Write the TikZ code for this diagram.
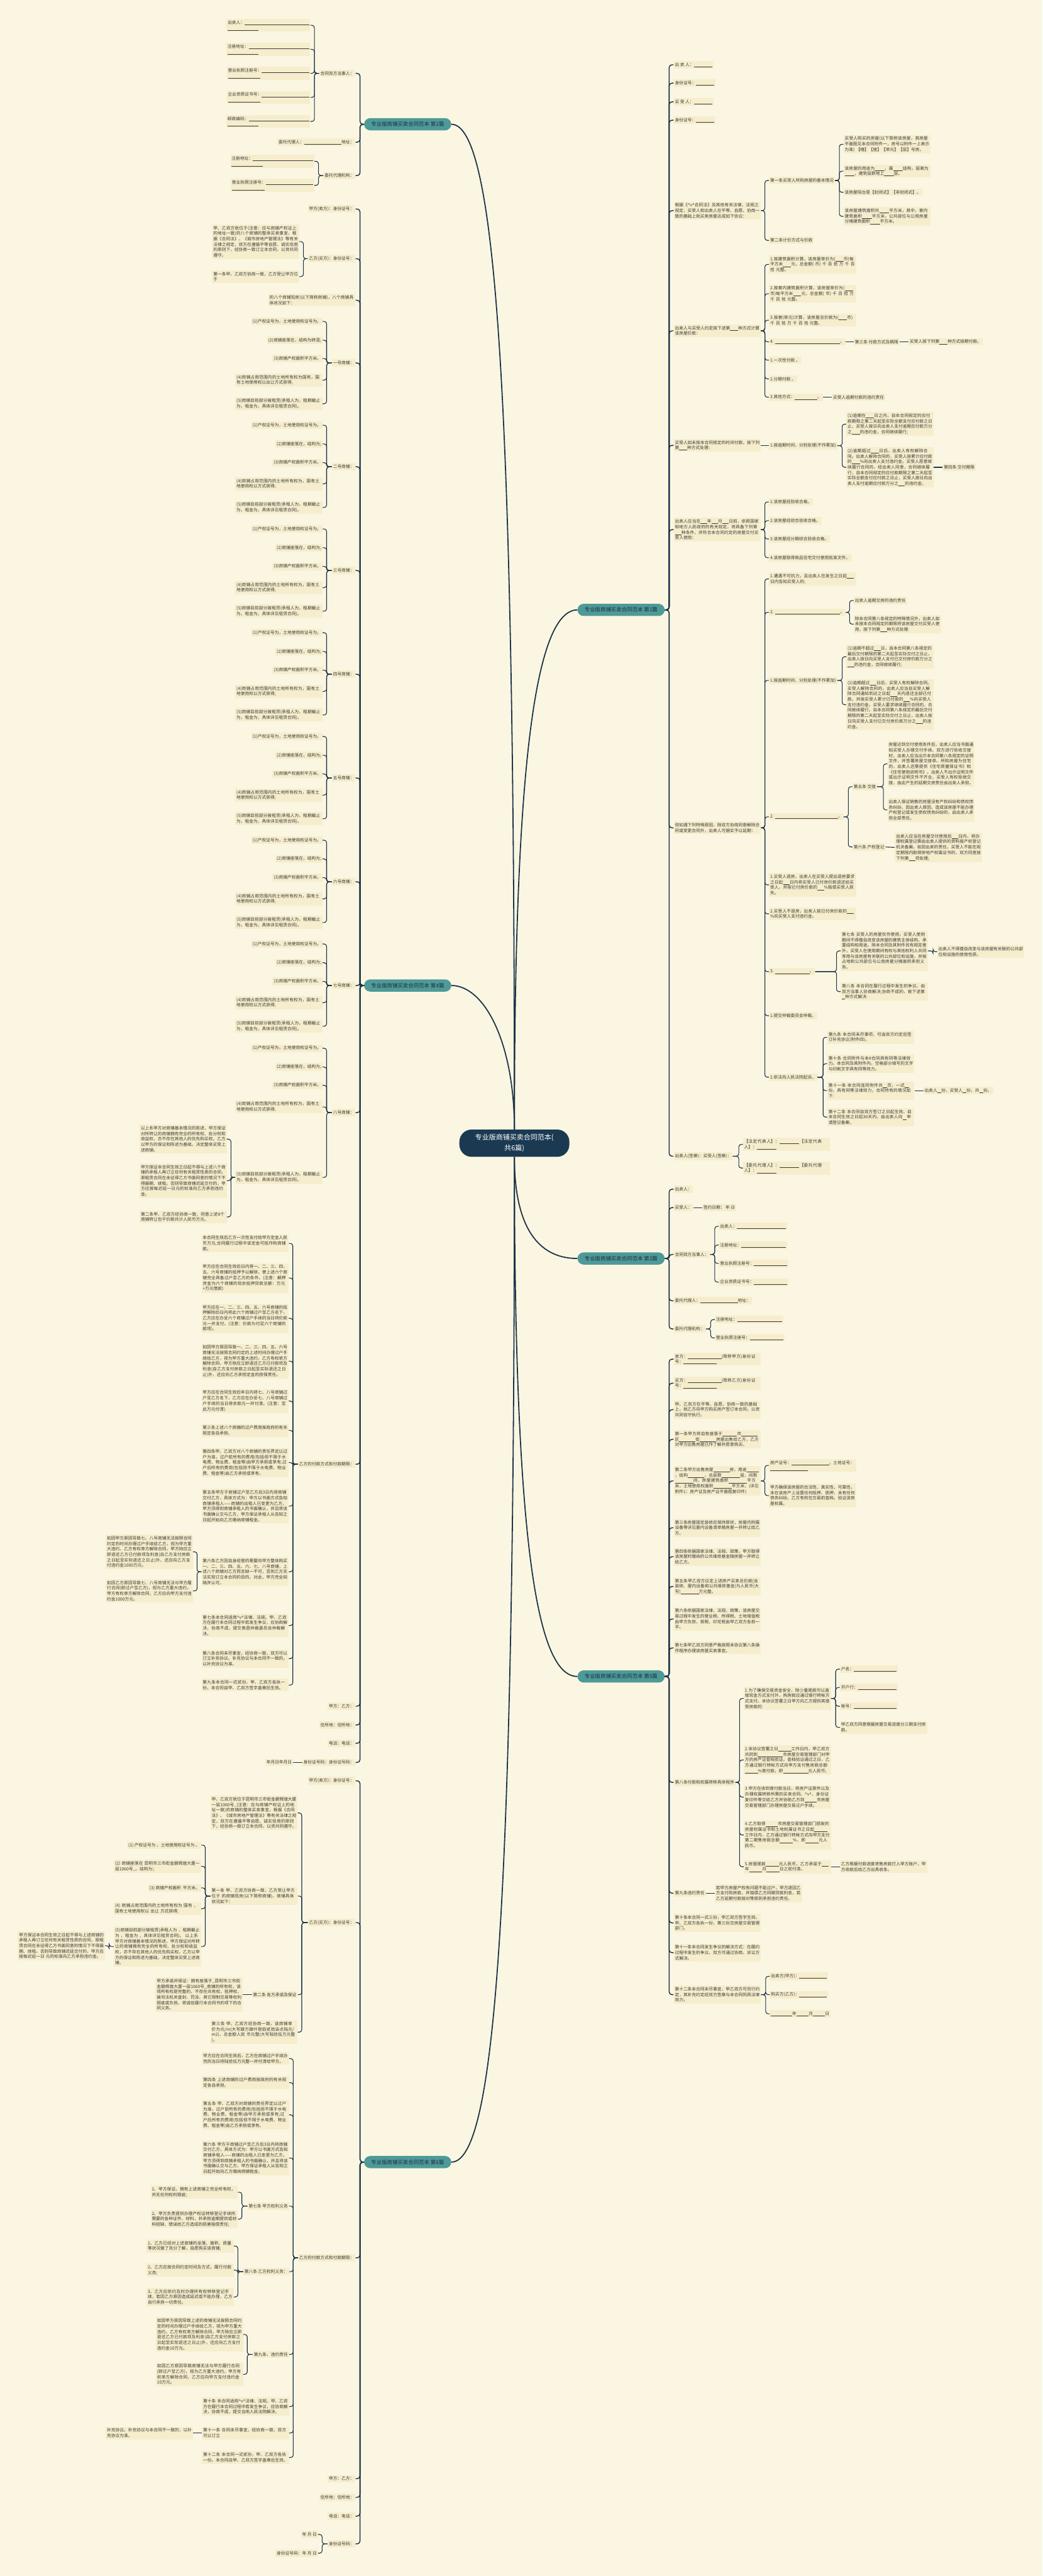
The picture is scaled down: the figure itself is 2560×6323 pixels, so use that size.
\documentclass[tikz,border=0pt]{standalone}
\usepackage{fontspec}
\setmainfont{Noto Sans CJK SC}
\usepackage{xcolor}
\usepackage{tikz}
\usetikzlibrary{positioning}

\XeTeXlinebreaklocale "zh"
\XeTeXlinebreakskip=0pt plus 1pt

\definecolor{bgc}{HTML}{FBF6E2}
\definecolor{leafbg}{HTML}{F5EDCC}
\definecolor{branchc}{HTML}{4E9A98}
\definecolor{branchtext}{HTML}{1B2F3F}
\definecolor{navyc}{HTML}{1B3A52}
\definecolor{linec}{HTML}{1C3448}
\definecolor{textc}{HTML}{3A3A3A}

\newcommand{\leaffont}{\fontsize{10.4}{13.4}\selectfont}
\newcommand{\branchfont}{\fontsize{13}{16}\selectfont}
\newcommand{\rootfont}{\fontsize{17}{26}\selectfont}
% blank to fill in
\newcommand{\bk}[1]{\hskip0pt plus 1pt\rule[-1.6pt]{#1pt}{0.5pt}\hskip0pt plus 1pt}
\newcommand{\vv}{\textasciicircum v\textasciicircum}

\begin{document}
\begin{tikzpicture}[x=1pt, y=-1pt,
  leaf/.style={fill=leafbg, text=textc, font=\leaffont, inner xsep=3pt, inner ysep=4pt, align=left},
  leafW/.style={leaf, anchor=west},
  leafE/.style={leaf, anchor=east},
  paraW/.style={leafW, text width=208pt},
  paraE/.style={leafE, text width=208pt},
  branch/.style={fill=branchc, text=branchtext, font=\branchfont, rounded corners=15pt, minimum width=214pt, minimum height=30pt, inner sep=0pt},
  root/.style={fill=navyc, text=white, font=\rootfont, rounded corners=30pt, minimum width=270pt, minimum height=67pt, align=center, inner sep=0pt},
  trunk/.style={draw=linec, line width=2.8pt},
  twig/.style={draw=linec, line width=2.2pt, rounded corners=7pt},
  link/.style={draw=linec, line width=1.7pt, rounded corners=6pt}]

\fill[bgc] (0,0) rectangle (2560,6323);
\useasboundingbox (0,0) rectangle (2560,6323);

% root and the six branches
\node[root] (root) at (1263,2806) {专业版商铺买卖合同范本(\\共6篇)};
\node[branch] (p1) at (1525,1497) {专业版商铺买卖合同范本 第1篇};
\node[branch] (p2) at (1001,305) {专业版商铺买卖合同范本 第2篇};
\node[branch] (p3) at (1525,3089) {专业版商铺买卖合同范本 第3篇};
\node[branch] (p4) at (1001,2419) {专业版商铺买卖合同范本 第4篇};
\node[branch] (p5) at (1525,4115) {专业版商铺买卖合同范本 第5篇};
\node[branch] (p6) at (1001,5307) {专业版商铺买卖合同范本 第6篇};

\draw[trunk] (root.north) .. controls (1263,1000) and (1220,305) .. (p2.east);
\draw[trunk] (root.north) .. controls (1263,2000) and (1300,1497) .. (p1.west);
\draw[trunk] (root.north) .. controls (1263,2560) and (1190,2419) .. (p4.east);
\draw[trunk] (root.south) .. controls (1263,3010) and (1320,3089) .. (p3.west);
\draw[trunk] (root.south) .. controls (1263,3800) and (1320,4115) .. (p5.west);
\draw[trunk] (root.south) .. controls (1263,4700) and (1215,5307) .. (p6.east);

% ---------- 第1篇 ----------
\node[leafW] (a1) at (1654,159) {出 卖 人：\bk{45}};
\node[leafW] (a2) at (1654,204) {身份证号：\bk{45}};
\node[leafW] (a3) at (1654,250) {买 受 人：\bk{45}};
\node[leafW] (a4) at (1654,295) {身份证号：\bk{45}};
\node[paraW] (a5) at (1654,517) {根据《\vv 合同法》及其他有关法律、法规之规定，买受人和出卖人在平等、自愿、协商一致的基础上就买卖房屋达成如下协议：};
\node[leafW] (a5a) at (1888,443) {第一条买受人所购房屋的基本情况};
\node[paraW] (a5a1) at (2071,354) {买受人购买的房屋(以下简称该房屋，其房屋平面图见本合同附件一，房号以附件一上表示为准) 【幢】【座】【单元】【层】号房。};
\node[paraW] (a5a2) at (2071,420) {该房屋的用途为\bk{24}，属\bk{24}结构，层高为\bk{24}，建筑层数地上\bk{24}层。};
\node[leafW] (a5a3) at (2071,472) {该房屋阳台是【封闭式】【非封闭式】。};
\node[paraW] (a5a4) at (2071,531) {该房屋建筑面积共\bk{24}平方米，其中，套内建筑面积\bk{24}平方米，公共部位与公用房屋分摊建筑面积\bk{24}平方米。};
\node[leafW] (a5b) at (1888,590) {第二条计价方式与价款};
\node[paraW] (a6) at (1654,812) {出卖人与买受人约定按下述第\bk{20}种方式计算该房屋价款：};
\node[paraW] (a6a) at (1888,649) {1.按建筑面积计算，该房屋单价为(\bk{20}币)每平方米\bk{20}元，总金额( 币) 千 百 拾 万 千 百 拾 元整。};
\node[paraW] (a6b) at (1888,721) {2.按套内建筑面积计算，该房屋单价为(\bk{20}币)每平方米\bk{20}元，总金额( 币) 千 百 拾 万 千 百 拾 元整。};
\node[paraW] (a6c) at (1888,786) {3.按套(单元)计算，该房屋总价款为(\bk{20}币) 千 百 拾 万 千 百 拾 元整。};
\node[leafW] (a6d) at (1888,839) {4. \bk{160}。};
\node[leafW] (a6d1) at (2096,839) {第三条 付款方式及期限};
\node[leaf, right=22pt of a6d1] (a6d2) {买受人按下列第\bk{20}种方式按期付款。};
\node[leafW] (a6e) at (1888,884) {1.一次性付款 。};
\node[leafW] (a6f) at (1888,930) {2.分期付款 。};
\node[leafW] (a6g) at (1888,975) {3.其他方式：\bk{55} 。};
\node[leaf, right=22pt of a6g] (a6g1) {买受人逾期付款的违约责任};
\node[paraW] (a7) at (1654,1093) {买受人如未按本合同规定的时间付款，按下列第\bk{20}种方式处理：};
\node[leafW] (a7a) at (1888,1094) {1.按逾期时间，分别处理(不作累加)};
\node[paraW] (a7a1) at (2078,1041) {(1)逾期在\bk{20}日之内，自本合同规定的应付款期限之第二天起至实际全额支付应付款之日止，买受人按日向出卖人支付逾期应付款万分之\bk{20}的违约金，合同继续履行;};
\node[paraW] (a7a2) at (2078,1147) {(2)逾期超过\bk{20}日后，出卖人有权解除合同。出卖人解除合同的，买受人按累计应付款的\bk{20}\%向出卖人支付违约金。买受人愿意继续履行合同的，经出卖人同意，合同继续履行，自本合同规定的应付款期限之第二天起至实际全额支付应付款之日止，买受人按日向出卖人支付逾期应付款万分之\bk{16}的违约金。};
\node[leaf, right=22pt of a7a2] (a7a3) {第四条 交付期限};
\node[paraW] (a8) at (1654,1300) {出卖人应当在\bk{16}年\bk{16}月\bk{16}日前，依照国家和地方人民政府的有关规定，将具备下列第\bk{16}种条件，并符合本合同约定的房屋交付买受人使用：};
\node[leafW] (a8a) at (1888,1232) {1.该房屋经验收合格。};
\node[leafW] (a8b) at (1888,1278) {2.该房屋经综合验收合格。};
\node[leafW] (a8c) at (1888,1323) {3.该房屋经分期综合验收合格。};
\node[leafW] (a8d) at (1888,1369) {4.该房屋取得商品住宅交付使用批准文件。};
\node[paraW] (a9) at (1654,2032) {但如遇下列特殊原因，除双方协商同意解除合同或变更合同外，出卖人可据实予以延期：};
\node[paraW] (a9a) at (1888,1421) {1.遭遇不可抗力，且出卖人在发生之日起\bk{16}日内告知买受人的;};
\node[leafW] (a9b) at (1888,1503) {2. \bk{160}。};
\node[leafW] (a9b1) at (2096,1474) {出卖人逾期交房的违约责任};
\node[paraW] (a9b2) at (2096,1532) {除本合同第八条规定的特殊情况外，出卖人如未按本合同规定的期限将该房屋交付买受人使用，按下列第\bk{16}种方式处理:};
\node[leafW] (a9c) at (1888,1670) {1.按逾期时间，分别处理(不作累加)};
\node[paraW] (a9c1) at (2078,1612) {(1)逾期不超过\bk{16}日，自本合同第八条规定的最后交付期限的第二天起至实际交付之日止，出卖人按日向买受人支付已交付房价款万分之\bk{16}的违约金，合同继续履行;};
\node[paraW] (a9c2) at (2078,1730) {(2)逾期超过\bk{16}日后，买受人有权解除合同。买受人解除合同的，出卖人应当自买受人解除合同通知到达之日起\bk{16}天内退还全部已付款，并按买受人累计已付款的\bk{16}\%向买受人支付违约金。买受人要求继续履行合同的，合同继续履行，自本合同第八条规定的最后交付期限的第二天起至实际交付之日止，出卖人按日向买受人支付已交付房价款万分之\bk{16}的违约金。};
\node[leafW] (a9d) at (1888,2005) {2. \bk{155}。};
\node[leafW] (a9d1) at (2093,1931) {第五条 交接};
\node[paraW] (a9d1a) at (2179,1875) {房屋达到交付使用条件后，出卖人应当书面通知买受人办理交付手续。双方进行验收交接时，出卖人应当出示本合同第八条规定的证明文件，并签署房屋交接单。所购房屋为住宅的，出卖人还需提供《住宅质量保证书》和《住宅使用说明书》。出卖人不出示证明文件或出示证明文件不齐全，买受人有权拒绝交接，由此产生的延期交房责任由出卖人承担。};
\node[paraW] (a9d1b) at (2179,1988) {出卖人保证销售的房屋没有产权纠纷和债权债务纠纷。因出卖人原因，造成该房屋不能办理产权登记或发生债权债务纠纷的，由出卖人承担全部责任。};
\node[leafW] (a9d2) at (2093,2079) {第六条 产权登记};
\node[paraW] (a9d2a) at (2197,2080) {出卖人应当在房屋交付使用后\bk{16}日内，将办理权属登记需由出卖人提供的资料报产权登记机关备案。如因出卖的责任，买受人不能在规定期限内取得房地产权属证书的，双方同意按下列第\bk{16}项处理;};
\node[paraW] (a9e) at (1888,2172) {1.买受人退房，出卖人在买受人提出退房要求之日起\bk{16}日内将买受人已付房价款退还给买受人，并按已付房价款的\bk{16}\%赔偿买受人损失。};
\node[paraW] (a9f) at (1888,2243) {2.买受人不退房，出卖人按已付房价款的\bk{16}\%向买受人支付违约金。};
\node[leafW] (a9g) at (1888,2385) {3. \bk{85}。};
\node[paraW] (a9g1) at (2064,2334) {第七条 买受人的房屋仅作使用，买受人使用期间不得擅自改变该房屋的建筑主体结构、承重结构和用途。除本合同及其附件另有规定者外，买受人在使用期间有权与其他权利人共同享用与该房屋有关联的公共部位和设施，并按占地和公共部位与公用房屋分摊面积承担义务。};
\node[paraW] (a9g1a) at (2301,2336) {出卖人不得擅自改变与该房屋有关联的公共部位和设施的使用性质。};
\node[paraW] (a9g2) at (2064,2434) {第八条 本合同在履行过程中发生的争议，由双方当事人协商解决;协商不成的，按下述第\bk{8}种方式解决:};
\node[leafW] (a9h) at (1888,2493) {1.提交仲裁委员会仲裁。};
\node[leafW] (a9i) at (1888,2644) {2.依法向人民法院起诉。};
\node[paraW] (a9i1) at (2031,2546) {第九条 本合同未尽事项，可由双方约定后签订补充协议(附件四)。};
\node[paraW] (a9i2) at (2031,2611) {第十条 合同附件与本\#合同具有同等法律效力。本合同及其附件内，空格部分填写的文字与印刷文字具有同等效力。};
\node[paraW] (a9i3) at (2031,2677) {第十一条 本合同连同附件共\bk{10}页，一式\bk{10}份，具有同等法律效力，合同持有的情况如下:};
\node[leafW] (a9i3a) at (2267,2677) {出卖人\bk{10}份，买受人\bk{10}份，共\bk{10}份。};
\node[paraW] (a9i4) at (2031,2742) {第十二条 本合同自双方签订之日起生效。自本合同生效之日起30天内，由出卖人向\bk{10}申请登记备案。};
\node[leafW] (a10) at (1654,2838) {出卖人(签章)：买受人(签章)：};
\node[paraW] (a10a) at (1824,2809) {【法定代表人】：\bk{48} 【法定代表人】：\bk{48}};
\node[paraW] (a10b) at (1824,2867) {【委托代理人】：\bk{48} 【委托代理人】：\bk{48}};

\foreach \c in {a1,a2,a3,a4,a5,a6,a7,a8,a9,a10} \draw[twig] (\c.west) -- ++(-11,0) |- (p1.east);
\foreach \c in {a5a,a5b} \draw[link] (\c.west) -- ++(-10,0) |- (a5.east);
\foreach \c in {a5a1,a5a2,a5a3,a5a4} \draw[link] (\c.west) -- ++(-10,0) |- (a5a.east);
\foreach \c in {a6a,a6b,a6c,a6d,a6e,a6f,a6g} \draw[link] (\c.west) -- ++(-10,0) |- (a6.east);
\draw[link] (a6d.east) -- (a6d1.west);
\draw[link] (a6d1.east) -- (a6d2.west);
\draw[link] (a6g.east) -- (a6g1.west);
\draw[link] (a7a.west) -- (a7.east |- a7a.west);
\foreach \c in {a7a1,a7a2} \draw[link] (\c.west) -- ++(-10,0) |- (a7a.east);
\draw[link] (a7a2.east) -- (a7a3.west);
\foreach \c in {a8a,a8b,a8c,a8d} \draw[link] (\c.west) -- ++(-10,0) |- (a8.east);
\foreach \c in {a9a,a9b,a9c,a9d,a9e,a9f,a9g,a9h,a9i} \draw[link] (\c.west) -- ++(-10,0) |- (a9.east);
\foreach \c in {a9b1,a9b2} \draw[link] (\c.west) -- ++(-10,0) |- (a9b.east);
\foreach \c in {a9c1,a9c2} \draw[link] (\c.west) -- ++(-10,0) |- (a9c.east);
\foreach \c in {a9d1,a9d2} \draw[link] (\c.west) -- ++(-10,0) |- (a9d.east);
\foreach \c in {a9d1a,a9d1b} \draw[link] (\c.west) -- ++(-10,0) |- (a9d1.east);
\draw[link] (a9d2a.west) -- (a9d2.east);
\foreach \c in {a9g1,a9g2} \draw[link] (\c.west) -- ++(-10,0) |- (a9g.east);
\draw[link] (a9g1a.west) -- ++(-10,0) |- (a9g1.east);
\foreach \c in {a9i1,a9i2,a9i3,a9i4} \draw[link] (\c.west) -- ++(-10,0) |- (a9i.east);
\draw[link] (a9i3a.west) -- (a9i3.east);
\foreach \c in {a10a,a10b} \draw[link] (\c.west) -- ++(-10,0) |- (a10.east);

% ---------- 第2篇 ----------
\node[leafE] (b1) at (873,180) {合同双方当事人：};
\node[leafE] (b1a) at (762,62) {出卖人：\bk{158}\\\bk{76}};
\node[leafE] (b1b) at (762,121) {注册地址：\bk{148}\\\bk{76}};
\node[leafE] (b1c) at (762,180) {营业执照注册号：\bk{116}\\\bk{80}};
\node[leafE] (b1d) at (762,239) {企业资质证书号：\bk{116}\\\bk{80}};
\node[leafE] (b1e) at (762,298) {邮政编码：\bk{148}\\\bk{76}};
\node[leafE] (b2) at (873,349) {委托代理人：\bk{92}地址：};
\node[leafE] (b3) at (873,431) {委托代理机构：};
\node[leafE] (b3a) at (772,396) {注册地址：\bk{148}\\\bk{76}};
\node[leafE] (b3b) at (772,455) {营业执照注册号：\bk{116}\\\bk{80}};

\foreach \c in {b1,b2,b3} \draw[twig] (\c.east) -- ++(11,0) |- (p2.west);
\foreach \c in {b1a,b1b,b1c,b1d,b1e} \draw[link] (\c.east) -- ++(10,0) |- (b1.west);
\foreach \c in {b3a,b3b} \draw[link] (\c.east) -- ++(10,0) |- (b3.west);

% ---------- 第4篇 ----------
\node[leafE] (d1) at (873,513) {甲方(卖方)：身份证号：};
\node[leafE] (d2) at (873,635) {乙方(买方)：身份证号：};
\node[paraE] (d2a) at (735,593) {甲、乙双方就位于(注意：应与商铺产权证上的地址一致)的八个商铺的整体买卖事宜，根据《合同法》、《城市房地产管理法》等有关法律之规定，双方在遵循平等自愿、诚实信用的原则下，经协商一致订立本合同，以资共同遵守。};
\node[paraE] (d2b) at (735,679) {第一条甲、乙双方协商一致，乙方受让甲方位于};
\node[paraE] (d3) at (873,737) {的八个商铺现房(以下简称商铺)，八个商铺具体状况如下：};

\node[leafE] (s1) at (873,891) {一号商铺：};
\node[leafE] (s1-1) at (792,789) {(1)产权证号为，土地使用权证号为。};
\node[leafE] (s1-2) at (792,835) {(2)商铺座落在，结构为砖混;};
\node[leafE] (s1-3) at (792,880) {(3)商铺产权面积平方米。};
\node[paraE] (s1-4) at (792,933) {(4)商铺占用范围内的土地所有权为国有，国有土地使用权以出让方式获得;};
\node[paraE] (s1-5) at (792,991) {(5)商铺目前部分被租赁(承租人为，租期截止为，租金为，具体详见租赁合同)。};
\foreach \c in {1,...,5} \draw[link] (s1-\c.east) -- ++(10,0) |- (s1.west);

\foreach \nm [count=\i from 2] in {二,三,四,五,六,七} {
  \pgfmathsetmacro{\yy}{891+254.67*(\i-1)}
  \node[leafE] (s\i) at (873,\yy) {\nm 号商铺：};
  \node[leafE] (s\i-1) at (792,{\yy-102}) {(1)产权证号为，土地使用权证号为。};
  \node[leafE] (s\i-2) at (792,{\yy-56}) {(2)商铺座落在，结构为;};
  \node[leafE] (s\i-3) at (792,{\yy-10}) {(3)商铺产权面积平方米。};
  \node[paraE] (s\i-4) at (792,{\yy+42}) {(4)商铺占用范围内的土地所有权为，国有土地使用权以方式获得;};
  \node[paraE] (s\i-5) at (792,{\yy+100}) {(5)商铺目前部分被租赁(承租人为，租期截止为，租金为，具体详见租赁合同)。};
  \foreach \c in {1,...,5} \draw[link] (s\i-\c.east) -- ++(10,0) |- (s\i.west);
}

\node[leafE] (s8) at (873,2731) {八号商铺：};
\node[leafE] (s8-1) at (792,2573) {(1)产权证号为，土地使用权证号为。};
\node[leafE] (s8-2) at (792,2619) {(2)商铺座落在，结构为;};
\node[leafE] (s8-3) at (792,2664) {(3)商铺产权面积平方米。};
\node[paraE] (s8-4) at (792,2717) {(4)商铺占用范围内的土地所有权为，国有土地使用权以方式获得;};
\node[paraE] (s8-5) at (792,2890) {(5)商铺目前部分被租赁(承租人为，租期截止为，租金为，具体详见租赁合同)。};
\node[paraE] (s8-5a) at (557,2796) {以上系甲方对商铺基本情况的陈述，甲方保证对所转让的商铺拥有完全的所有权、处分权和收益权，亦不存在其他人的优先购买权。乙方以甲方的保证和陈述为基础，决定整体买受上述商铺。};
\node[paraE] (s8-5b) at (557,2898) {甲方保证本合同生效之日起不得与上述八个商铺的承租人再订立任何有关租赁性质的合同，原租赁合同在未征得乙方书面同意的情况下不得展期、续租。否则导致商铺迟延交付的，甲方应按每迟延一日元的标准向乙方承担违约金。};
\node[paraE] (s8-5c) at (557,2987) {第二条甲、乙双方经协商一致，同意上述8个商铺转让包干价款共计人民币万元。};
\foreach \c in {1,...,5} \draw[link] (s8-\c.east) -- ++(10,0) |- (s8.west);
\foreach \c in {a,b,c} \draw[link] (s8-5\c.east) -- ++(10,0) |- (s8-5.west);

\node[leafE] (d12) at (873,3594) {乙方的付款方式和付款期限：};
\node[paraE] (d12a) at (709,3052) {本合同生效后乙方一次性支付给甲方定金人民币万元,合同履行过程中该定金可抵作购商铺款。};
\node[paraE] (d12b) at (709,3137) {甲方应在合同生效后日内将一、二、三、四、五、六号商铺的抵押予以解除，使上述六个商铺完全具备过户至乙方的条件。(注意：解押资金为六个商铺的现余抵押贷款总额：万元+万元借款)};
\node[paraE] (d12c) at (709,3236) {甲方应在一、二、三、四、五、六号商铺的抵押解除后日内将此六个商铺过户至乙方名下，乙方应在办妥六个商铺过户手续的当日将价款元一并支付。(注意：价款为付足六个商铺的款项)。};
\node[paraE] (d12d) at (709,3341) {如因甲方原因导致一、二、三、四、五、六号商铺无法按照合同约定的上述时间办理过户手续给乙方，视为甲方重大违约，乙方有权单方解除合同，甲方除应立即退还乙方已付款项及利息(自乙方支付房款之日起至实际退还之日止)外，还应向乙方承担定金的担保责任。};
\node[paraE] (d12e) at (709,3439) {甲方应在合同生效后年日内将七、八号商铺过户至乙方名下，乙方应在办妥七、八号商铺过户手续的当日将余款元一并付清。(注意：至此万元付清)};
\node[paraE] (d12f) at (709,3511) {第三条上述八个商铺的过户费用按政府的有关规定各自承担。};
\node[paraE] (d12g) at (709,3590) {第四条甲、乙双方对八个商铺的责任界定以过户为准，过户前所有的费用(包括但不限于水电费、物业费、租金等)由甲方承担或享有;过户后所有的费用(包括但不限于水电费、物业费、租金等)由乙方承担或享有。};
\node[paraE] (d12h) at (709,3697) {第五条甲方于商铺过户至乙方后3日内将商铺交付乙方，具体方式为：甲方以书面方式告知商铺承租人——商铺的出租人已变更为乙方，甲方须得到商铺承租人的书面确认，并且将该书面确认交与乙方，甲方保证承租人从告知之日起开始向乙方缴纳商铺租金。};
\node[paraE] (d12i) at (709,3858) {第六条乙方因自身经营的需要向甲方整体购买一、二、三、四、五、六、七、八号商铺，上述八个商铺对乙方而言缺一不可，否则乙方无法实现订立本合同的目的。对此，甲方完全知晓并认可。};
\node[paraE] (d12i1) at (474,3809) {如因甲方原因导致七、八号商铺无法按照合同约定的时间办理过户手续给乙方，视为甲方重大违约，乙方有权单方解除合同，甲方除应立即退还乙方已付款项及利息(自乙方支付房款之日起至实际退还之日止)外，还应向乙方支付违约金1000万元。};
\node[paraE] (d12i2) at (474,3905) {如因乙方原因导致七、八号商铺无法与甲方履行合同(即过户至乙方)，视为乙方重大违约，甲方有权单方解除合同，乙方应向甲方支付违约金1000万元。};
\node[paraE] (d12j) at (709,3990) {第七条本合同适用\vv 法律、法规。甲、乙双方在履行本合同过程中若发生争议，应协商解决，协商不成，提交南昌仲裁委员会仲裁解决。};
\node[paraE] (d12k) at (709,4071) {第八条合同未尽事宜，经协商一致，双方可以订立补充协议。补充协议与本合同不一致的，以补充协议为准。};
\node[paraE] (d12l) at (709,4136) {第九条本合同一式贰份，甲、乙双方各执一份。本合同自甲、乙双方签字盖章后生效。};
\node[leafE] (d13) at (873,4188) {甲方：乙方：};
\node[leafE] (d14) at (873,4234) {住所地：住所地：};
\node[leafE] (d15) at (873,4279) {电话：电话：};
\node[leafE] (d16) at (873,4326) {身份证号码：身份证号码：};
\node[leaf, left=22pt of d16] (d16a) {年月日年月日};

\foreach \c in {d1,d2,d3,s1,s2,s3,s4,s5,s6,s7,s8,d12,d13,d14,d15,d16} \draw[twig] (\c.east) -- ++(11,0) |- (p4.west);
\foreach \c in {d2a,d2b} \draw[link] (\c.east) -- ++(10,0) |- (d2.west);
\foreach \c in {a,b,c,d,e,f,g,h,i,j,k,l} \draw[link] (d12\c.east) -- ++(10,0) |- (d12.west);
\foreach \c in {d12i1,d12i2} \draw[link] (\c.east) -- ++(10,0) |- (d12i.west);
\draw[link] (d16a.east) -- (d16.west);

% ---------- 第3篇 ----------
\node[leafW] (c1) at (1654,2919) {出卖人：};
\node[leafW] (c2) at (1654,2964) {买受人：};
\node[leaf, right=22pt of c2] (c2a) {签约日期： 年 日};
\node[leafW] (c3) at (1654,3079) {合同双方当事人：};
\node[leafW] (c3a) at (1765,3010) {出卖人：\bk{120}};
\node[leafW] (c3b) at (1765,3056) {注册地址：\bk{110}};
\node[leafW] (c3c) at (1765,3101) {营业执照注册号：\bk{82}};
\node[leafW] (c3d) at (1765,3147) {企业资质证书号：\bk{82}};
\node[leafW] (c4) at (1654,3193) {委托代理人：\bk{92}地址：};
\node[leafW] (c5) at (1654,3262) {委托代理机构：};
\node[leafW] (c5a) at (1755,3239) {注册地址：\bk{110}};
\node[leafW] (c5b) at (1755,3284) {营业执照注册号：\bk{82}};

\foreach \c in {c1,c2,c3,c4,c5} \draw[twig] (\c.west) -- ++(-11,0) |- (p3.east);
\draw[link] (c2.east) -- (c2a.west);
\foreach \c in {c3a,c3b,c3c,c3d} \draw[link] (\c.west) -- ++(-10,0) |- (c3.east);
\foreach \c in {c5a,c5b} \draw[link] (\c.west) -- ++(-10,0) |- (c5.east);

% ---------- 第5篇 ----------
\node[paraW] (e1) at (1654,3336) {卖方：\bk{82}(简称甲方)身份证号：\bk{82}};
\node[paraW] (e2) at (1654,3395) {买方：\bk{82}(简称乙方)身份证号：\bk{82}};
\node[paraW] (e3) at (1654,3460) {甲、乙双方在平等、自愿、协商一致的基础上，就乙方向甲方购买房产签订本合同，以资共同信守执行。};
\node[paraW] (e4) at (1654,3533) {第一条甲方将自有座落于\bk{36}市\bk{40}区\bk{40}街\bk{40}房屋出售给乙方，乙方对甲方出售房屋已作了解并愿意购买。};
\node[paraW] (e5) at (1654,3635) {第二条甲方出售房屋\bk{40}房，用途\bk{30}，结构\bk{40}，总层数\bk{45}层，间数\bk{45}间，房屋建筑面积\bk{45}平方米，土地使用权面积\bk{45}平方米，(详见附件1：房产证及房产证平面图复印件)};
\node[paraW] (e5a) at (1888,3597) {房产证号：\bk{92}，土地证号：\bk{92}};
\node[paraW] (e5b) at (1888,3671) {甲方确保该房屋的合法性、真实性、可靠性，未在该房产上设置任何抵押、质押，未有任何债务纠纷。乙方有权在交易前查档，验证该房屋权属。};
\node[paraW] (e6) at (1654,3750) {第三条房屋固定装修应保持原状，房屋内附属设备等详见屋内设备清单随房屋一并转让给乙方。};
\node[paraW] (e7) at (1654,3821) {第四条依据国家法律、法规、政策，甲方取得该房屋时缴纳的公共维修基金随房屋一并转让给乙方。};
\node[paraW] (e8) at (1654,3894) {第五条甲乙双方议定上述房产买卖总价款(含装修、屋内设备和公共维修基金)为人民币(大写)\bk{45}万元整。};
\node[paraW] (e9) at (1654,3974) {第六条依据国家法律、法规、政策，该房屋交易过程中发生的营业税、所得税、土地增值税由甲方负担，契税、印花税由甲乙双方各担一半。};
\node[paraW] (e10) at (1654,4045) {第七条甲乙双方同意严格按照本协议第八条操作程序办理该房屋买卖事宜。};
\node[leafW] (e11) at (1654,4375) {第八条付款和权属转移具体程序};
\node[paraW] (e11a) at (1826,4169) {1.为了确保交易资金安全，除少量尾款可以直接现金方式支付外，购房款应通过银行转帐方式支付。本协议签署之日甲方向乙方提供其接受房款的:};
\node[leafW] (e11a1) at (2062,4097) {户名：\bk{105}};
\node[leafW] (e11a2) at (2062,4142) {开户行：\bk{95}};
\node[leafW] (e11a3) at (2062,4188) {帐号：\bk{105}};
\node[paraW] (e11a4) at (2062,4240) {甲乙双方同意根据房屋交易进度分三期支付房款。};
\node[paraW] (e11b) at (1826,4320) {2.本协议签署之日\bk{32}工作日内，甲乙双方共同到\bk{62}市房屋交易管理部门对甲方的房产证查档验证。查档验证通过之日，乙方通过银行转帐方式向甲方支付售房款总额\bk{32}\%首付款，即\bk{62}元人民币;};
\node[paraW] (e11c) at (1826,4411) {3.甲方在收到首付款当日，将房产证原件以及办理权属转移所需的买卖合同、\vv、身份证复印件等交给乙方并协助乙方到\bk{30}市房屋交易管理部门办理房屋交易过户手续。};
\node[paraW] (e11d) at (1826,4504) {4.乙方取得\bk{30}市房屋交易管理部门颁发的房屋权属证书和土地权属证书之日起\bk{32}工作日内，乙方通过银行转帐方式向甲方支付第二期售房款总额\bk{32}\%，即\bk{32}元人民币。};
\node[paraW] (e11e) at (1826,4582) {5.房屋尾款\bk{32}元人民币，乙方承诺于\bk{16}年\bk{32}月\bk{32}日之前付清。};
\node[paraW] (e11e1) at (2062,4582) {乙方根据付款进度将售房款打入甲方账户，甲方收款后给乙方出具收条。};
\node[leafW] (e12) at (1654,4647) {第九条违约责任};
\node[paraW] (e12a) at (1755,4647) {若甲方房屋产权有问题不能过户，甲方退回乙方支付购房款，并赔偿乙方同期贷款利息，若乙方延期付款按对等原则承担违约责任。};
\node[paraW] (e13) at (1654,4720) {第十条本合同一式三份，甲乙双方签字生效。甲、乙双方各执一份，第三份交房屋交易管理部门。};
\node[paraW] (e14) at (1654,4793) {第十一条本合同发生争议的解决方式：在履约过程中发生的争议，双方可通过协商、诉讼方式解决。};
\node[paraW] (e15) at (1654,4896) {第十二条本合同未尽事宜，甲乙双方可另行约定，其补充约定经双方签章与本合同同具法律效力。};
\node[leafW] (e15a) at (1890,4851) {出卖方(甲方)：\bk{68}};
\node[leafW] (e15b) at (1890,4896) {购买方(乙方)：\bk{68}};
\node[leafW] (e15c) at (1890,4943) {\bk{52}年\bk{30}月\bk{30}日};

\foreach \c in {e1,e2,e3,e4,e5,e6,e7,e8,e9,e10,e11,e12,e13,e14,e15} \draw[twig] (\c.west) -- ++(-11,0) |- (p5.east);
\foreach \c in {e5a,e5b} \draw[link] (\c.west) -- ++(-10,0) |- (e5.east);
\foreach \c in {e11a,e11b,e11c,e11d,e11e} \draw[link] (\c.west) -- ++(-10,0) |- (e11.east);
\foreach \c in {e11a1,e11a2,e11a3,e11a4} \draw[link] (\c.west) -- ++(-10,0) |- (e11a.east);
\draw[link] (e11e1.west) -- (e11e.east);
\draw[link] (e12a.west) -- (e12.east);
\foreach \c in {e15a,e15b,e15c} \draw[link] (\c.west) -- ++(-10,0) |- (e15.east);

% ---------- 第6篇 ----------
\node[leafE] (f1) at (873,4371) {甲方(卖方)：身份证号：};
\node[leafE] (f2) at (873,4719) {乙方(买方)：身份证号：};
\node[paraE] (f2a) at (731,4450) {甲、乙双方就位于昆明市三市街金碧辉煌大厦一层1060号\_(注意：应与商铺产权证上的地址一致)的商铺的整体买卖事宜，根据《合同法》、《城市房地产管理法》等有关法律之规定，双方在遵循平等自愿、诚实信用的原则下，经协商一致订立本合同，以资共同遵守。};
\node[paraE] (f2b) at (731,4654) {第一条 甲、乙双方协商一致，乙方受让甲方位于 的商铺现房(以下简称商铺)，商铺具体状况如下：};
\node[leafE] (f2b1) at (494,4529) {(1) 产权证号为 ，土地使用权证号为 。};
\node[paraE] (f2b2) at (494,4581) {(2) 商铺座落在 昆明市三市街金碧辉煌大厦一层1060号\_。结构为；};
\node[leafE] (f2b3) at (494,4634) {(3) 商铺产权面积 \ 平方米。};
\node[paraE] (f2b4) at (494,4685) {(4) 商铺占用范围内的土地所有权为 国有 ，国有土地使用权以 出让 方式获得;};
\node[paraE] (f2b5) at (494,4778) {(5)商铺目前部分被租赁(承租人为 ，租期截止为 ，租金为 ，具体详见租赁合同)。 以上系甲方对商铺基本情况的陈述，甲方保证对所转让的商铺拥有完全的所有权、处分权和收益权，亦不存在其他人的优先购买权。乙方以甲方的保证和陈述为基础，决定整体买受上述商铺。};
\node[paraE] (f2b5a) at (258,4776) {甲方保证本合同生效之日起不得与上述商铺的承租人再订立任何有关租赁性质的合同，原租赁合同在未征得乙方书面同意的情况下不得展期、续租。否则导致商铺迟延交付的，甲方应按每迟延一日 元的标准向乙方承担违约金。};
\node[leafE] (f2c) at (731,4896) {第二条 各方承诺及保证};
\node[paraE] (f2c1) at (596,4896) {甲方承诺并保证：拥有座落于\_昆明市三市街金碧辉煌大厦一层1060号\_商铺的所有权，该项所有权是完整的，不存在共有权、抵押权、被司法机关查封、罚没、其它限制交易等权利瑕疵或负担。将诚信履行本合同书的项下的合同义务。};
\node[paraE] (f2d) at (731,4988) {第三条 甲、乙双方经协商一致，该商铺单价为元/m(大写肆万肆仟捌佰贰拾柒点陆元/ m2)，总金额人民 币元整(大写陆拾伍万元整 )。};
\node[leafE] (f3) at (873,5542) {乙方的付款方式和付款期限：};
\node[paraE] (f3a) at (710,5053) {甲方应在合同生效后，乙方在商铺过户手续办完的当日将陆拾伍万元整一并付清给甲方。};
\node[paraE] (f3b) at (710,5112) {第四条 上述商铺的过户费用按政府的有关规定各自承担。};
\node[paraE] (f3c) at (710,5191) {第五条 甲、乙双方对商铺的责任界定以过户为准，过户前所有的费用(包括但不限于水电费、物业费、租金等)由甲方承担或享有;过户后所有的费用(包括但不限于水电费、物业费、租金等)由乙方承担或享有。};
\node[paraE] (f3d) at (710,5297) {第六条 甲方于商铺过户至乙方后3日内将商铺交付乙方，具体方式为：甲方以书面方式告知商铺承租人——商铺的出租人已变更为乙方，甲方须得到商铺承租人的书面确认，并且将该书面确认交与乙方，甲方保证承租人从告知之日起开始向乙方缴纳商铺租金。};
\node[leafE] (f3e) at (710,5415) {第七条 甲方权利义务};
\node[paraE] (f3e1) at (584,5381) {1、甲方保证，拥有上述商铺之完全所有权，并无任何权利瑕疵;};
\node[paraE] (f3e2) at (584,5447) {2、甲方负责提供办理产权证转移登记手续所需要的各种证件、材料，并承担逾期提供或材料短缺、错误给乙方造成的损害赔偿责任;};
\node[leafE] (f3f) at (710,5576) {第八条 乙方权利义务：};
\node[paraE] (f3f1) at (574,5513) {1、乙方已经对上述商铺的坐落、面积、质量等状况做了充分了解，自愿购买该商铺;};
\node[paraE] (f3f2) at (574,5572) {2、乙方应按合同约定时间及方式，履行付款义务;};
\node[paraE] (f3f3) at (574,5638) {3、乙方应依约及时办理所有权转移登记手续，若因乙方原因造成延迟或不能办理，乙方自行承担一切责任。};
\node[leafE] (f3g) at (710,5779) {第九条、违约责任};
\node[paraE] (f3g1) at (597,5730) {如因甲方原因导致上述的商铺无法按照合同约定的时间办理过户手续给乙方，视为甲方重大违约，乙方有权单方解除合同，甲方除应立即退还乙方已付款项及利息(自乙方支付房款之日起至实际退还之日止)外，还应向乙方支付违约金10万元。};
\node[paraE] (f3g2) at (597,5828) {如因乙方原因导致商铺无法与甲方履行合同(即过户至乙方)，视为乙方重大违约，甲方有权单方解除合同，乙方应向甲方支付违约金10万元。};
\node[paraE] (f3h) at (710,5907) {第十条 本合同适用\vv 法律、法规。甲、乙双方在履行本合同过程中若发生争议，应协商解决，协商不成，提交当地人民法院解决。};
\node[paraE] (f3i) at (710,5972) {第十一条 合同未尽事宜，经协商一致，双方可以订立};
\node[paraE] (f3i1) at (474,5972) {补充协议。补充协议与本合同不一致的，以补充协议为准。};
\node[paraE] (f3j) at (710,6032) {第十二条 本合同一式贰份，甲、乙双方各执一份。本合同自甲、乙双方签字盖章后生效。};
\node[leafE] (f4) at (873,6084) {甲方：乙方：};
\node[leafE] (f5) at (873,6130) {住所地：住所地：};
\node[leafE] (f6) at (873,6176) {电话：电话：};
\node[leafE] (f7) at (873,6244) {身份证号码：};
\node[leafE] (f7a) at (781,6221) {年 月 日};
\node[leafE] (f7b) at (781,6267) {身份证号码：年 月 日};

\foreach \c in {f1,f2,f3,f4,f5,f6,f7} \draw[twig] (\c.east) -- ++(11,0) |- (p6.west);
\foreach \c in {f2a,f2b,f2c,f2d} \draw[link] (\c.east) -- ++(10,0) |- (f2.west);
\foreach \c in {f2b1,f2b2,f2b3,f2b4,f2b5} \draw[link] (\c.east) -- ++(10,0) |- (f2b.west);
\draw[link] (f2b5a.east) -- ++(10,0) |- (f2b5.west);
\draw[link] (f2c1.east) -- (f2c.west);
\foreach \c in {f3a,f3b,f3c,f3d,f3e,f3f,f3g,f3h,f3i,f3j} \draw[link] (\c.east) -- ++(10,0) |- (f3.west);
\foreach \c in {f3e1,f3e2} \draw[link] (\c.east) -- ++(10,0) |- (f3e.west);
\foreach \c in {f3f1,f3f2,f3f3} \draw[link] (\c.east) -- ++(10,0) |- (f3f.west);
\foreach \c in {f3g1,f3g2} \draw[link] (\c.east) -- ++(10,0) |- (f3g.west);
\draw[link] (f3i1.east) -- (f3i.west);
\foreach \c in {f7a,f7b} \draw[link] (\c.east) -- ++(10,0) |- (f7.west);

\end{tikzpicture}
\end{document}
